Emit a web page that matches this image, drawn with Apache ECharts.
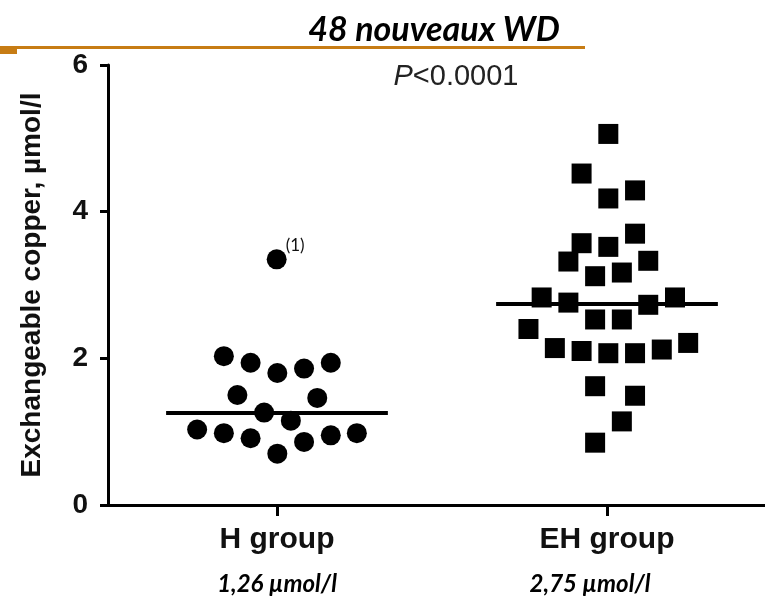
<!DOCTYPE html>
<html>
<head>
<meta charset="utf-8">
<script src="https://cdn.jsdelivr.net/npm/echarts@6/dist/echarts.min.js"></script>
<style>html,body{margin:0;padding:0;background:#fff}#c{width:765px;height:604px}</style>
</head>
<body>
<div id="c"></div>
<script>
// ---- data ----
const categories = ['H group', 'EH group'];
const categoryPos = [1, 2];
const medianLabels = ['1,26 µmol/l', '2,75 µmol/l'];
const medians = [1.26, 2.75];
const yTicks = [0, 2, 4, 6];

// H group (circles): horizontal spread position, value
const hX = [0.839, 0.920, 1.001, 1.082, 1.163, 0.880, 1.122, 0.961, 1.042, 0.758, 0.839, 0.920, 1.001, 1.082, 1.163, 1.242];
const hY = [2.03, 1.94, 1.80, 1.86, 1.94, 1.50, 1.46, 1.26, 1.15, 1.03, 0.98, 0.91, 0.70, 0.86, 0.95, 0.98];
const hOutlierX = [0.999];
const hOutlierY = [3.35];

// EH group (squares)
const ehX = [2.004, 1.923, 2.004, 2.085, 2.085, 1.923, 2.004, 1.883, 2.125, 1.964, 2.045, 1.802, 1.883, 2.125, 2.206, 1.964, 2.045, 1.762, 1.842, 1.923, 2.004, 2.085, 2.166, 2.246, 1.964, 2.085, 2.045, 1.964];
const ehY = [5.06, 4.52, 4.18, 4.29, 3.70, 3.57, 3.52, 3.32, 3.33, 3.12, 3.17, 2.83, 2.76, 2.73, 2.83, 2.53, 2.53, 2.40, 2.14, 2.10, 2.07, 2.07, 2.12, 2.21, 1.62, 1.49, 1.14, 0.85];

// ---- chart ----
const medianHalf = 0.336;
const zip = (xs, ys) => xs.map((x, i) => [x, ys[i]]);
const chart = echarts.init(document.getElementById('c'), null, {renderer: 'canvas'});

const hData = zip(hX, hY).concat(zip(hOutlierX, hOutlierY).map(p => ({
  value: p,
  label: {show: true, formatter: '(1)', position: [19, -4], verticalAlign: 'middle',
          fontFamily: 'Lato', fontSize: 17, color: '#111'}
})));

const option = {
  animation: false,
  backgroundColor: '#fff',
  grid: {left: 108, right: 0, top: 65, bottom: 99, containLabel: false},
  title: [{
    text: '48 nouveaux WD',
    left: 429, top: 8, textAlign: 'center',
    textStyle: {fontFamily: 'Lato', fontStyle: 'italic', fontWeight: 'bold', fontSize: 34, color: '#000'}
  }, {
    text: '{i|P}<0.0001',
    left: 451, top: 57, textAlign: 'center',
    textStyle: {
      fontFamily: 'Liberation Sans', fontWeight: 'normal', fontSize: 29, color: '#222',
      rich: {i: {fontFamily: 'Liberation Sans', fontWeight: 'normal', fontStyle: 'italic', fontSize: 29, color: '#222'}}
    }
  }],
  graphic: [
    {type: 'rect', shape: {x: 0, y: 46, width: 585, height: 3}, style: {fill: '#C77C14'}, silent: true},
    {type: 'rect', shape: {x: 0, y: 46, width: 17, height: 8}, style: {fill: '#C77C14'}, silent: true}
  ],
  xAxis: {
    type: 'value',
    min: 0.4879, max: 2.4788,
    axisLine: {show: true, onZero: false, lineStyle: {color: '#000', width: 3}},
    axisTick: {show: true, customValues: categoryPos, length: 11, lineStyle: {color: '#000', width: 3}},
    axisLabel: {
      customValues: categoryPos,
      margin: 18,
      formatter: v => {
        const i = categoryPos.indexOf(Math.round(v));
        return '{a|' + categories[i] + '}\n{' + (i === 0 ? 'b' : 'c') + '|' + medianLabels[i] + '}';
      },
      rich: {
        a: {fontFamily: 'Liberation Sans', fontWeight: 'bold', fontSize: 30, lineHeight: 34, color: '#111'},
        b: {fontFamily: 'Lato', fontStyle: 'italic', fontWeight: 'bold', fontSize: 24, lineHeight: 54, color: '#000'},
        c: {fontFamily: 'Lato', fontStyle: 'italic', fontWeight: 'bold', fontSize: 24, lineHeight: 54, color: '#000', padding: [0, 34, 0, 0]}
      }
    },
    splitLine: {show: false}
  },
  yAxis: {
    type: 'value',
    min: 0, max: 6, interval: 2,
    name: 'Exchangeable copper, µmol/l',
    nameLocation: 'middle',
    nameGap: 62,
    nameTextStyle: {fontFamily: 'Liberation Sans', fontWeight: 'bold', fontSize: 28, color: '#111'},
    axisLine: {show: true, lineStyle: {color: '#000', width: 3}},
    axisTick: {show: true, length: 8, lineStyle: {color: '#000', width: 3}},
    axisLabel: {
      margin: 20,
      fontFamily: 'Liberation Sans', fontWeight: 'bold', fontSize: 28, color: '#111',
      customValues: yTicks
    },
    splitLine: {show: false}
  },
  series: [{
    name: categories[0],
    type: 'scatter',
    symbol: 'circle',
    symbolSize: 20,
    itemStyle: {color: '#000', opacity: 1},
    data: hData,
    markLine: {
      silent: true, symbol: 'none', label: {show: false},
      lineStyle: {color: '#000', width: 4, type: 'solid', opacity: 1},
      data: [[{coord: [categoryPos[0] - medianHalf, medians[0]]}, {coord: [categoryPos[0] + medianHalf, medians[0]]}]]
    }
  }, {
    name: categories[1],
    type: 'scatter',
    symbol: 'rect',
    symbolSize: 20,
    itemStyle: {color: '#000', opacity: 1},
    data: zip(ehX, ehY),
    markLine: {
      silent: true, symbol: 'none', label: {show: false},
      lineStyle: {color: '#000', width: 4, type: 'solid', opacity: 1},
      data: [[{coord: [categoryPos[1] - medianHalf, medians[1]]}, {coord: [categoryPos[1] + medianHalf, medians[1]]}]]
    }
  }]
};
chart.setOption(option);
</script>
</body>
</html>
